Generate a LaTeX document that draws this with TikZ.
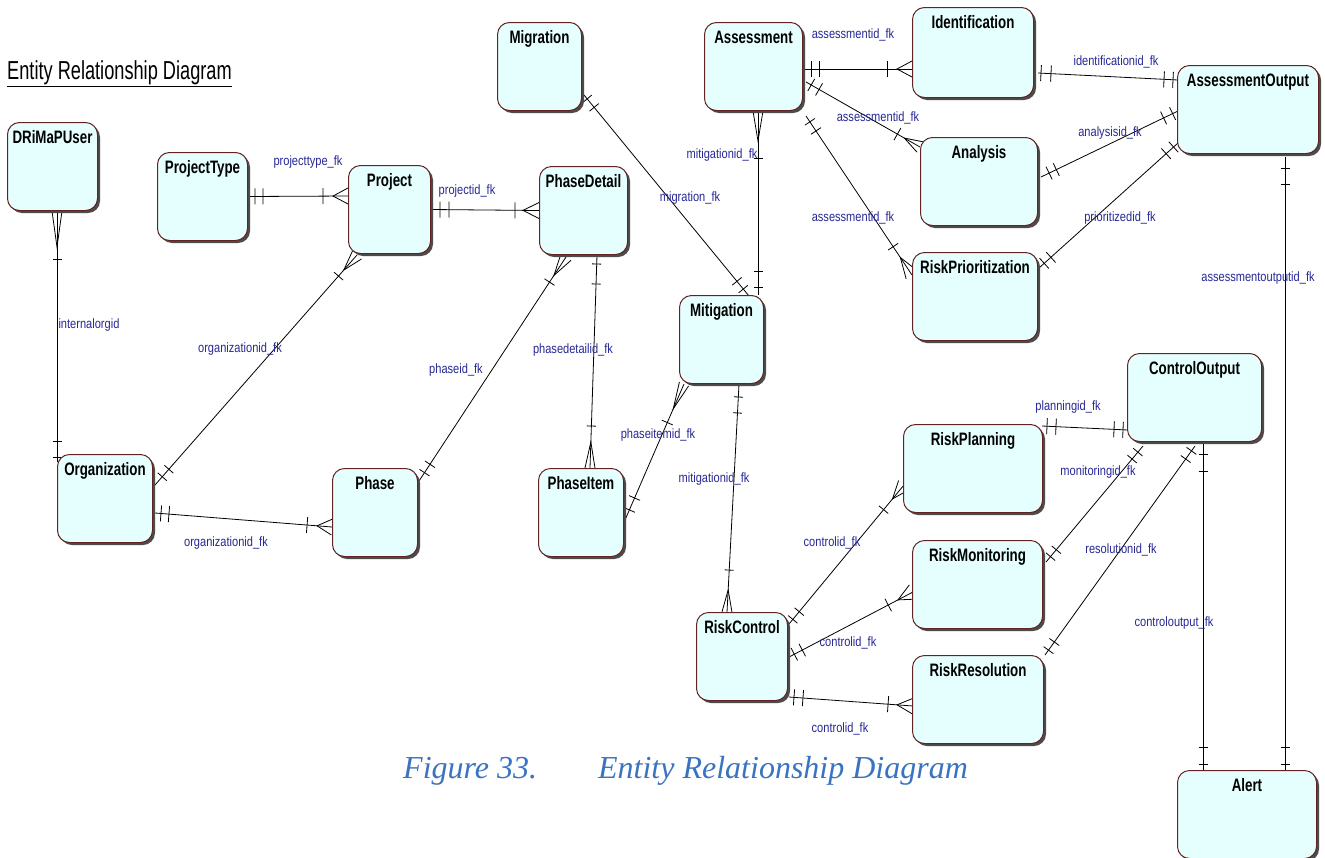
\documentclass[tikz,border=0pt]{standalone}
\usepackage{fontspec}
\usetikzlibrary{calc,shadows,decorations.markings}
\newfontfamily\ttlfont[FakeStretch=0.7]{Liberation Sans}
\newfontfamily\entfont[FakeStretch=0.74]{Liberation Sans}
\newfontfamily\lblfont[FakeStretch=0.82]{Liberation Sans}
\newfontfamily\capfont{Liberation Serif}
\definecolor{boxfill}{RGB}{229,255,255}
\definecolor{boxedge}{RGB}{100,35,35}
\definecolor{lblblue}{RGB}{40,40,150}
\definecolor{capblue}{RGB}{58,115,192}
\pgfdeclarelayer{paper}
\pgfdeclarelayer{background}
\pgfsetlayers{paper,background,main}
\tikzset{
  entity/.style={draw=boxedge, line width=1pt, fill=boxfill, rounded corners=12pt,
    anchor=north west, inner xsep=2pt, inner ysep=4pt,
    text height=17pt, text depth=63pt,
    font=\entfont\bfseries\fontsize{18}{20}\selectfont,
    drop shadow={shadow xshift=2.5pt, shadow yshift=-2.5pt, fill=black!70, opacity=1}},
  lbl/.style={inner sep=0pt, text=lblblue, font=\lblfont\fontsize{13.5}{15}\selectfont},
  fkline/.style={draw=black, line width=0.8pt},
  fk/.style={fkline},
  bar/.style 2 args={postaction={decorate,decoration={markings,
      mark=at position #1 with {\draw[fkline] (0pt,-#2pt)--(0pt,#2pt);}}}},
  crowend/.style 2 args={postaction={decorate,decoration={markings,
      mark=at position -#1pt with {\draw[fkline] (#1pt,-#2pt)--(0pt,0pt)--(#1pt,#2pt);}}}},
  crowstart/.style 2 args={postaction={decorate,decoration={markings,
      mark=at position #1pt with {\draw[fkline] (-#1pt,-#2pt)--(0pt,0pt)--(-#1pt,#2pt);}}}},
}
\begin{document}
\begin{tikzpicture}[x=1pt,y=-1pt]
\useasboundingbox (0,0) rectangle (1325,857);
\begin{pgfonlayer}{paper}
  \fill[white] (0,0) rectangle (1325,857);
\end{pgfonlayer}

% heading
\node[anchor=base west, inner sep=0pt, font=\ttlfont\fontsize{26}{28}\selectfont] (ttl) at (7,79) {\underline{Entity Relationship Diagram}};

% entities
\node[entity, minimum width=90pt]  (U)   at (7,122)    {DRiMaPUser};
\node[entity, minimum width=90pt]  (PT)  at (157,152)  {ProjectType};
\node[entity, minimum width=82pt]  (P)   at (348,165)  {Project};
\node[entity, minimum width=84pt]  (MG)  at (497,22)   {Migration};
\node[entity, minimum width=88pt]  (PD)  at (539,166)  {PhaseDetail};
\node[entity, minimum width=98pt]  (AS)  at (704,22)   {Assessment};
\node[entity, minimum width=121pt, text depth=65pt] (ID) at (912,7) {Identification};
\node[entity, minimum width=117pt] (AN)  at (920,137)  {Analysis};
\node[entity, minimum width=141pt] (AO)  at (1177,65)  {AssessmentOutput};
\node[entity, minimum width=125pt] (RP)  at (912,252)  {RiskPrioritization};
\node[entity, minimum width=84pt]  (MT)  at (679,295)  {Mitigation};
\node[entity, minimum width=85pt]  (PI)  at (538,468)  {PhaseItem};
\node[entity, minimum width=95pt]  (OR)  at (57,454)   {Organization};
\node[entity, minimum width=85pt]  (PH)  at (332,468)  {Phase};
\node[entity, minimum width=139pt] (RPL) at (903,424)  {RiskPlanning};
\node[entity, minimum width=130pt] (RM)  at (912,540)  {RiskMonitoring};
\node[entity, minimum width=131pt] (RR)  at (912,655)  {RiskResolution};
\node[entity, minimum width=91pt]  (RC)  at (696,612)  {RiskControl};
\node[entity, minimum width=134pt] (CO)  at (1127,353) {ControlOutput};
\node[entity, minimum width=139pt] (AL)  at (1177,770) {Alert};

% relationships
\begin{pgfonlayer}{background}
\draw[fk, crowstart={36}{5}, bar={48pt}{4.5}, bar={-21pt}{4.5}, bar={-5pt}{4.5}]
  ([shift={(50,0)}]U.south west) -- ([shift={(0,8)}]OR.north west);
\draw[fk, bar={7pt}{8}, bar={15pt}{8}, bar={-25pt}{8}, crowend={15}{8}]
  (PT.east) -- ([shift={(0,31)}]P.north west);
\draw[fk, bar={9pt}{8}, bar={18pt}{8}, bar={-24pt}{8}, crowend={16}{8}]
  (P.east) -- (PD.west);
\draw[fk, bar={11pt}{6}, bar={21pt}{6}, bar={-28pt}{6}, crowend={20}{6}]
  ([shift={(2,31)}]OR.north east) -- ([shift={(9,1)}]P.south west);
\draw[fk, bar={10pt}{6}, bar={20pt}{6}, bar={-30pt}{6}, crowend={22}{6}]
  ([shift={(1,13)}]PH.north east) -- ([shift={(27,2)}]PD.south west);
\draw[fk, bar={9pt}{4.5}, bar={29pt}{4.5}, bar={-42pt}{4.5}, crowend={26}{5}]
  ([shift={(58,0)}]PD.south west) -- ([shift={(52,0)}]PI.north west);
\draw[fk, bar={11pt}{6}, bar={24pt}{6}, bar={-42pt}{6}, crowend={27}{5}]
  ([shift={(1,52)}]PI.north east) -- ([shift={(5,0)}]MT.south west);
\draw[fk, bar={5pt}{6}, bar={16pt}{6}, bar={-19pt}{6}, bar={-9pt}{6}]
  ([shift={(2,73)}]MG.north east) -- ([shift={(70,1)}]MT.north west);
\draw[fk, crowstart={30}{5}, bar={47pt}{4.5}, bar={-24pt}{4.5}, bar={-8pt}{4.5}]
  ([shift={(54,0)}]AS.south west) -- ([shift={(79,0)}]MT.north west);
\draw[fk, bar={13pt}{4.5}, bar={29pt}{4.5}, bar={-42pt}{4.5}, crowend={22}{5}]
  ([shift={(60,0)}]MT.south west) -- ([shift={(31,0)}]RC.north west);
\draw[fk, bar={8pt}{8}, bar={16pt}{8}, bar={-25pt}{8}, crowend={15}{8}]
  ([shift={(0,47)}]AS.north east) -- ([shift={(0,62)}]ID.north west);
\draw[fk, bar={6pt}{7}, bar={15pt}{7}, bar={-26pt}{7}, crowend={18}{6}]
  ([shift={(3,60)}]AS.north east) -- ([shift={(0,10)}]AN.north west);
\draw[fk, bar={7pt}{6}, bar={18pt}{6}, bar={-34pt}{6}, crowend={21}{7}]
  ([shift={(3,5)}]AS.south east) -- ([shift={(0,23)}]RP.north west);
\draw[fk, bar={3pt}{8}, bar={13pt}{8}, bar={-14pt}{8}, bar={-5pt}{8}]
  ([shift={(4,66)}]ID.north east) -- ([shift={(1,15)}]AO.north west);
\draw[fk, bar={9pt}{7}, bar={17pt}{7}, bar={-16pt}{7}, bar={-6pt}{7}]
  ([shift={(3,40)}]AN.north east) -- ([shift={(1,46)}]AO.north west);
\draw[fk, bar={7pt}{7}, bar={16pt}{7}, bar={-16pt}{7}, bar={-6pt}{7}]
  ([shift={(1,16)}]RP.north east) -- ([shift={(1,78)}]AO.north west);
\draw[fk, bar={11pt}{4.5}, bar={27pt}{4.5}, bar={-23pt}{4.5}, bar={-6pt}{4.5}]
  ([shift={(108,3)}]AO.south west) -- ([shift={(108,0)}]AL.north west);
\draw[fk, bar={10pt}{4.5}, bar={27pt}{4.5}, bar={-23pt}{4.5}, bar={-6pt}{4.5}]
  ([shift={(76,2)}]CO.south west) -- ([shift={(26,0)}]AL.north west);
\draw[fk, bar={5pt}{8}, bar={14pt}{8}, bar={-14pt}{8}, bar={-5pt}{8}]
  ([shift={(-1,2)}]RPL.north east) -- ([shift={(1,77)}]CO.north west);
\draw[fk, bar={7pt}{6}, bar={16pt}{6}, bar={-17pt}{6}, bar={-8pt}{6}]
  ([shift={(3,22)}]RM.north east) -- ([shift={(16,4)}]CO.south west);
\draw[fk, bar={6pt}{6}, bar={16pt}{6}, bar={-16pt}{6}, bar={-6pt}{6}]
  ([shift={(1,0)}]RR.north east) -- ([shift={(68,4)}]CO.south west);
\draw[fk, bar={6pt}{6}, bar={16pt}{6}, bar={-32pt}{6}, crowend={18}{7}]
  ([shift={(1,12)}]RC.north east) -- ([shift={(1,61)}]RPL.north west);
\draw[fk, bar={6pt}{7}, bar={15pt}{7}, bar={-28pt}{7}, crowend={17}{8}]
  ([shift={(1,45)}]RC.north east) -- ([shift={(1,52)}]RM.north west);
\draw[fk, bar={5pt}{8}, bar={14pt}{8}, bar={-25pt}{8}, crowend={16}{8}]
  ([shift={(1,-4)}]RC.south east) -- ([shift={(1,51)}]RR.north west);
\draw[fk, bar={6pt}{8}, bar={14pt}{8}, bar={-25pt}{8}, crowend={15}{8}]
  ([shift={(2,59)}]OR.north east) -- ([shift={(0,59)}]PH.north west);
\end{pgfonlayer}

% relationship names
\node[lbl] (l01) at (89,325)   {internalorgid};
\node[lbl] (l02) at (308,162)  {projecttype\_fk};
\node[lbl] (l03) at (467,191)  {projectid\_fk};
\node[lbl] (l04) at (240,349)  {organizationid\_fk};
\node[lbl] (l05) at (456,370)  {phaseid\_fk};
\node[lbl] (l06) at (573,350)  {phasedetailid\_fk};
\node[lbl] (l07) at (658,435)  {phaseitemid\_fk};
\node[lbl] (l08) at (714,479)  {mitigationid\_fk};
\node[lbl] (l09) at (690,198)  {migration\_fk};
\node[lbl] (l10) at (722,155)  {mitigationid\_fk};
\node[lbl] (l11) at (853,35)   {assessmentid\_fk};
\node[lbl] (l12) at (878,118)  {assessmentid\_fk};
\node[lbl] (l13) at (853,218)  {assessmentid\_fk};
\node[lbl] (l14) at (1116,62)  {identificationid\_fk};
\node[lbl] (l15) at (1110,133) {analysisid\_fk};
\node[lbl] (l16) at (1120,218) {prioritizedid\_fk};
\node[lbl] (l17) at (1258,278) {assessmentoutputid\_fk};
\node[lbl] (l18) at (1068,407) {planningid\_fk};
\node[lbl] (l19) at (1098,472) {monitoringid\_fk};
\node[lbl] (l20) at (1121,550) {resolutionid\_fk};
\node[lbl] (l21) at (1174,623) {controloutput\_fk};
\node[lbl] (l22) at (832,543)  {controlid\_fk};
\node[lbl] (l23) at (848,643)  {controlid\_fk};
\node[lbl] (l24) at (840,729)  {controlid\_fk};
\node[lbl] (l25) at (226,543)  {organizationid\_fk};

% caption
\node[anchor=base west, inner sep=0pt, text=capblue, font=\capfont\itshape\fontsize{32}{36}\selectfont]
  (cap) at (403,778) {Figure 33.\hspace{61pt}Entity Relationship Diagram};
\end{tikzpicture}
\end{document}
